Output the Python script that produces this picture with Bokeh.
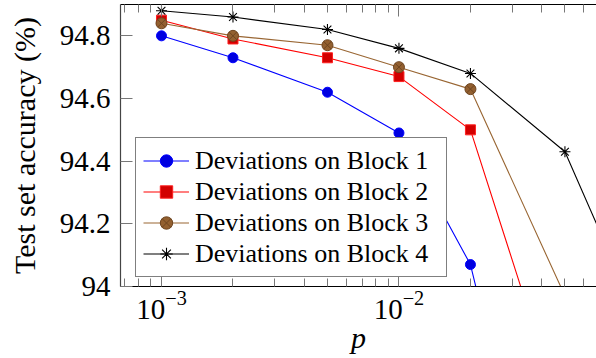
from bokeh.plotting import figure
from bokeh.models import FixedTicker, LogAxis, Legend, LegendItem, Range1d
from bokeh.embed import file_html
from bokeh.resources import INLINE

# ---- data ----
p_values = [0.001, 0.002, 0.005, 0.01, 0.02, 0.05]
p_values_b4 = [0.001, 0.002, 0.005, 0.01, 0.02, 0.05, 0.1]
block1 = [94.80, 94.73, 94.62, 94.49, 94.07, 92.83]
block2 = [94.85, 94.79, 94.73, 94.67, 94.50, 93.56]
block3 = [94.84, 94.80, 94.77, 94.70, 94.63, 93.97]
block4 = [94.88, 94.86, 94.82, 94.76, 94.68, 94.43, 93.91]
series_labels = ["Deviations on Block 1", "Deviations on Block 2",
                 "Deviations on Block 3", "Deviations on Block 4"]
x_ticks = [0.001, 0.01]
x_minor_ticks = [7e-4, 8e-4, 9e-4] + [k * 1e-3 for k in range(2, 10)] + [k * 1e-2 for k in range(2, 7)]
y_ticks = [94, 94.2, 94.4, 94.6, 94.8]
y_tick_labels = ["94", "94.2", "94.4", "94.6", "94.8"]
x_label = "p"
y_label = "Test set accuracy (%)"

FONT = "Liberation Serif"

p = figure(width=596, height=358, x_axis_type="log",
           x_range=Range1d(6.72e-4, 0.0679), y_range=Range1d(94, 94.9),
           output_backend="svg", toolbar_location=None,
           min_border_left=120, min_border_right=0, min_border_top=4,
           min_border_bottom=72)
p.outline_line_color = None
p.xgrid.visible = False
p.ygrid.visible = False
p.background_fill_color = "white"
p.border_fill_color = "white"

xt = FixedTicker(ticks=x_ticks, minor_ticks=x_minor_ticks)

# x axis (bottom)
xa = p.xaxis[0]
xa.ticker = xt
xa.major_tick_in = 12
xa.major_tick_out = 0
xa.minor_tick_in = 8
xa.minor_tick_out = 0
xa.major_label_text_font = FONT
xa.major_label_text_font_size = "29px"
xa.major_label_text_color = "black"
xa.major_label_standoff = 4
xa.axis_label = x_label
xa.axis_label_text_font = FONT
xa.axis_label_text_font_size = "30px"
xa.axis_label_text_font_style = "italic"
xa.axis_label_text_color = "black"
xa.axis_label_standoff = -1
xa.axis_line_color = "black"
xa.major_tick_line_color = "#777777"
xa.minor_tick_line_color = "#777777"

# y axis (left)
ya = p.yaxis[0]
ya.ticker = FixedTicker(ticks=y_ticks)
ya.major_label_overrides = dict(zip(y_ticks, y_tick_labels))
ya.major_tick_in = 12
ya.major_tick_out = 0
ya.minor_tick_in = 0
ya.minor_tick_out = 0
ya.major_label_text_font = FONT
ya.major_label_text_font_size = "29px"
ya.major_label_text_color = "black"
ya.major_label_standoff = 10
ya.axis_label = y_label
ya.axis_label_text_font = FONT
ya.axis_label_text_font_size = "30px"
ya.axis_label_text_font_style = "normal"
ya.axis_label_text_color = "black"
ya.axis_label_standoff = 16
ya.axis_line_color = "#444444"
ya.axis_line_width = 1.2
ya.major_tick_line_color = "#777777"

# top axis (frame line with inward ticks)
top = LogAxis(ticker=xt, major_label_text_font_size="1px", major_label_text_alpha=0,
              major_label_standoff=0,
              major_tick_in=12, major_tick_out=0, minor_tick_in=8, minor_tick_out=0,
              axis_line_color="black", major_tick_line_color="#777777",
              minor_tick_line_color="#777777")
p.add_layout(top, "above")

# series
l1 = p.line(p_values, block1, line_color="#0000ff", line_width=1.1)
s1 = p.scatter(p_values, block1, marker="circle", size=10, fill_color="#0000e0", line_color="#0000ff")
l2 = p.line(p_values, block2, line_color="#ff0000", line_width=1.1)
s2 = p.scatter(p_values, block2, marker="square", size=10, fill_color="#d20000", line_color="#ff2020")
l3 = p.line(p_values, block3, line_color="#996633", line_width=1.1)
s3 = p.scatter(p_values, block3, marker="circle_x", size=11, fill_color="#936030", line_color="#6e4520")
l4 = p.line(p_values_b4, block4, line_color="black", line_width=1.1)
s4 = p.scatter(p_values_b4, block4, marker="asterisk", size=11, line_color="black", line_width=1.1)

legend = Legend(items=[
    LegendItem(label=series_labels[0], renderers=[l1, s1]),
    LegendItem(label=series_labels[1], renderers=[l2, s2]),
    LegendItem(label=series_labels[2], renderers=[l3, s3]),
    LegendItem(label=series_labels[3], renderers=[l4, s4]),
], location=(15, 9), margin=0, padding=7, spacing=0,
    glyph_width=46, glyph_height=31, label_standoff=6, label_width=244,
    label_text_font=FONT, label_text_font_size="26px", label_text_color="black",
    border_line_color="black", border_line_width=1,
    background_fill_color="white", background_fill_alpha=1)
p.add_layout(legend)

open("out.html", "w").write(file_html(p, INLINE))
